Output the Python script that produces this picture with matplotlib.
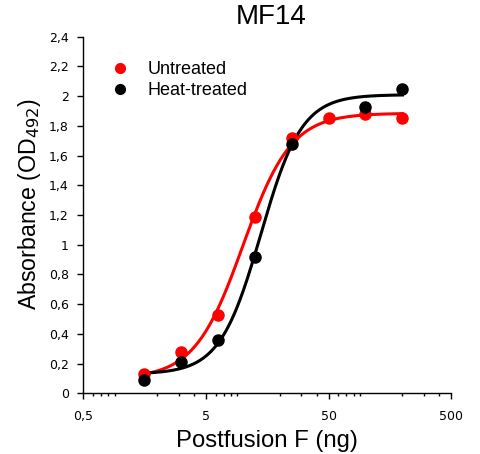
import numpy as np
import matplotlib
matplotlib.use("Agg")
import matplotlib.pyplot as plt
from matplotlib.ticker import FixedLocator, LogLocator, NullFormatter

# Data
x_untreated = [1.5625, 3.125, 6.25, 12.5, 25, 50, 100, 200]
y_untreated = [0.13, 0.28, 0.53, 1.185, 1.72, 1.855, 1.877, 1.85]
x_heat = [1.5625, 3.125, 6.25, 12.5, 25, 100, 200]
y_heat = [0.09, 0.213, 0.36, 0.915, 1.678, 1.93, 2.05]

# 4PL fit parameters (bottom, top, EC50, hill)
fit_untreated = (0.10, 1.885, 10.0, 2.2)
fit_heat = (0.13, 2.01, 14.0, 2.6)

xticks = [0.5, 5, 50, 500]
xticklabels = ["0,5", "5", "50", "500"]
yticks = [0, 0.2, 0.4, 0.6, 0.8, 1.0, 1.2, 1.4, 1.6, 1.8, 2.0, 2.2, 2.4]
yticklabels = ["0", "0,2", "0,4", "0,6", "0,8", "1", "1,2", "1,4", "1,6", "1,8", "2", "2,2", "2,4"]


def fourpl(x, b, t, ec, h):
    x = np.asarray(x, dtype=float)
    return b + (t - b) / (1 + (ec / x) ** h)


fig = plt.figure(figsize=(4.8, 4.54), dpi=100)
ax = fig.add_axes([0.1736, 0.1337, 0.7664, 0.7853])

xs = np.logspace(np.log10(x_untreated[0]), np.log10(x_untreated[-1]), 300)
ax.plot(xs, fourpl(xs, *fit_untreated), color="#ff0000", lw=2.2, zorder=2)
xs2 = np.logspace(np.log10(x_heat[0]), np.log10(x_heat[-1]), 300)
ax.plot(xs2, fourpl(xs2, *fit_heat), color="black", lw=2.2, zorder=3)

ax.plot(x_untreated, y_untreated, "o", color="#ff0000", ms=8, zorder=4, ls="none")
ax.plot(x_heat, y_heat, "o", color="black", ms=8, zorder=5, ls="none")

h1 = ax.plot([], [], "o", color="#ff0000", ms=7, ls="none", label="Untreated")[0]
h2 = ax.plot([], [], "o", color="black", ms=7, ls="none", label="Heat-treated")[0]
ax.legend(handles=[h1, h2], frameon=False, loc="upper left",
          bbox_to_anchor=(0.076, 0.931), prop={"family": "Liberation Sans", "size": 13},
          handletextpad=1.0, labelspacing=0.2, handlelength=1.0, borderaxespad=0,
          borderpad=0)

ax.set_xscale("log")
ax.set_xlim(0.5, 500)
ax.set_ylim(0, 2.4)
ax.xaxis.set_major_locator(FixedLocator(xticks))
ax.set_xticklabels(xticklabels)
ax.xaxis.set_minor_locator(LogLocator(base=10, subs=np.arange(2, 10)))
ax.xaxis.set_minor_formatter(NullFormatter())
ax.set_yticks(yticks)
ax.set_yticklabels(yticklabels)

for s in ["top", "right"]:
    ax.spines[s].set_visible(False)
for s in ["left", "bottom"]:
    ax.spines[s].set_linewidth(1.0)
ax.tick_params(axis="x", which="major", direction="out", length=4, width=1,
               labelsize=9, pad=8)
ax.tick_params(axis="y", which="major", direction="out", length=4.5, width=1,
               labelsize=9, pad=6)
ax.tick_params(axis="x", which="minor", direction="out", length=2.5, width=1)

ax.set_xlabel("Postfusion F (ng)", fontsize=17.2, family="Liberation Sans", labelpad=5)
ax.set_ylabel("Absorbance (OD$_{492}$)", fontsize=16.7, family="Liberation Sans")
ax.yaxis.set_label_coords(-0.110, 0.532)
ax.set_title("MF14", fontsize=20, family="Liberation Sans", pad=9, x=0.51)

fig.savefig("out.png", dpi=100)
